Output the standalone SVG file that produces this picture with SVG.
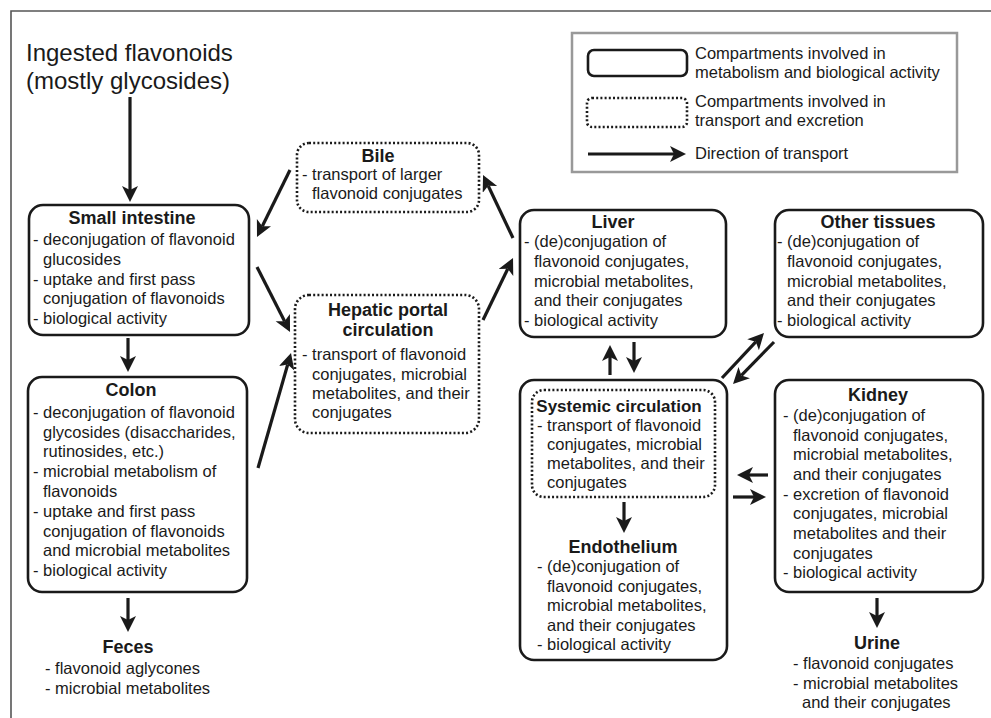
<svg xmlns="http://www.w3.org/2000/svg" width="991" height="718" viewBox="0 0 991 718">
<defs>
<marker id="ah" markerUnits="userSpaceOnUse" markerWidth="18" markerHeight="18" refX="4" refY="8" orient="auto">
<path d="M0,0 L16,8 L0,16 L4,8 Z" fill="#1a1a1a"/>
</marker>
<style>
text{font-family:"Liberation Sans",Arial,sans-serif;fill:#1a1a1a;font-size:16.5px}
.t{font-weight:bold;font-size:18px;text-anchor:middle}
.big{font-size:24px}
.solid{fill:#fff;stroke:#1a1a1a;stroke-width:2.6}
.dot{fill:#fff;stroke:#1a1a1a;stroke-width:2.6;stroke-dasharray:2 2.2}
.ar{stroke:#1a1a1a;stroke-width:3.2;fill:none;marker-end:url(#ah)}
</style>
</defs>
<rect width="991" height="718" fill="#fff"/>
<path d="M11,718 L11,11 L991,11" fill="none" stroke="#555" stroke-width="1.6"/>

<g id="ingested">
<text class="big" x="26" y="61">Ingested flavonoids</text>
<text class="big" x="26" y="89">(mostly glycosides)</text>
</g>

<g id="legend">
<rect x="572" y="33" width="385" height="139" fill="#fff" stroke="#999" stroke-width="2.5"/>
<rect class="solid" x="588" y="50" width="99" height="26" rx="6"/>
<text x="695" y="59">Compartments involved in</text>
<text x="695" y="78">metabolism and biological activity</text>
<rect class="dot" x="587" y="98" width="100" height="29" rx="5"/>
<text x="695" y="107">Compartments involved in</text>
<text x="695" y="126">transport and excretion</text>
<line class="ar" x1="588" y1="154" x2="674" y2="154"/>
<text x="695" y="159">Direction of transport</text>
</g>

<g id="small-intestine">
<rect class="solid" x="29" y="205" width="220" height="130" rx="14"/>
<text class="t" x="132" y="224">Small intestine</text>
<text x="33" y="245">- deconjugation of flavonoid</text>
<text x="43" y="265">glucosides</text>
<text x="33" y="285">- uptake and first pass</text>
<text x="43" y="304">conjugation of flavonoids</text>
<text x="33" y="324">- biological activity</text>
</g>

<g id="colon">
<rect class="solid" x="28" y="377" width="219" height="215" rx="14"/>
<text class="t" x="131" y="396">Colon</text>
<text x="33" y="418">- deconjugation of flavonoid</text>
<text x="43" y="438">glycosides (disaccharides,</text>
<text x="43" y="457">rutinosides, etc.)</text>
<text x="33" y="477">- microbial metabolism of</text>
<text x="43" y="497">flavonoids</text>
<text x="33" y="517">- uptake and first pass</text>
<text x="43" y="537">conjugation of flavonoids</text>
<text x="43" y="556">and microbial metabolites</text>
<text x="33" y="576">- biological activity</text>
</g>

<g id="feces">
<text class="t" x="128" y="653">Feces</text>
<text x="45" y="674">- flavonoid aglycones</text>
<text x="45" y="694">- microbial metabolites</text>
</g>

<g id="bile">
<rect class="dot" x="297" y="143" width="182" height="69" rx="12"/>
<text class="t" x="378" y="162">Bile</text>
<text x="302" y="180">- transport of larger</text>
<text x="312" y="199">flavonoid conjugates</text>
</g>

<g id="hepatic-portal">
<rect class="dot" x="295" y="295" width="184" height="138" rx="14"/>
<text class="t" x="388" y="316">Hepatic portal</text>
<text class="t" x="388" y="336">circulation</text>
<text x="302" y="360">- transport of flavonoid</text>
<text x="312" y="380">conjugates, microbial</text>
<text x="312" y="399">metabolites, and their</text>
<text x="312" y="418">conjugates</text>
</g>

<g id="liver">
<rect class="solid" x="520" y="210" width="206" height="127" rx="14"/>
<text class="t" x="613" y="228">Liver</text>
<text x="524" y="247">- (de)conjugation of</text>
<text x="534" y="267">flavonoid conjugates,</text>
<text x="534" y="287">microbial metabolites,</text>
<text x="534" y="306">and their conjugates</text>
<text x="524" y="326">- biological activity</text>
</g>

<g id="other-tissues">
<rect class="solid" x="775" y="210" width="208" height="127" rx="14"/>
<text class="t" x="878" y="228">Other tissues</text>
<text x="777" y="247">- (de)conjugation of</text>
<text x="787" y="267">flavonoid conjugates,</text>
<text x="787" y="287">microbial metabolites,</text>
<text x="787" y="306">and their conjugates</text>
<text x="777" y="326">- biological activity</text>
</g>

<g id="endothelium">
<rect class="solid" x="520" y="380" width="207" height="280" rx="14"/>
<text class="t" x="623" y="553">Endothelium</text>
<text x="537" y="572">- (de)conjugation of</text>
<text x="547" y="592">flavonoid conjugates,</text>
<text x="547" y="611">microbial metabolites,</text>
<text x="547" y="631">and their conjugates</text>
<text x="537" y="650">- biological activity</text>
</g>

<g id="systemic-circulation">
<rect class="dot" x="532" y="390" width="183" height="107" rx="12"/>
<text class="t" x="619" y="412" style="font-size:17px">Systemic circulation</text>
<text x="537" y="431">- transport of flavonoid</text>
<text x="547" y="450">conjugates, microbial</text>
<text x="547" y="469">metabolites, and their</text>
<text x="547" y="488">conjugates</text>
</g>

<g id="kidney">
<rect class="solid" x="775" y="380" width="208" height="212" rx="14"/>
<text class="t" x="878" y="401">Kidney</text>
<text x="783" y="421">- (de)conjugation of</text>
<text x="793" y="441">flavonoid conjugates,</text>
<text x="793" y="460">microbial metabolites,</text>
<text x="793" y="480">and their conjugates</text>
<text x="783" y="500">- excretion of flavonoid</text>
<text x="793" y="519">conjugates, microbial</text>
<text x="793" y="539">metabolites and their</text>
<text x="793" y="559">conjugates</text>
<text x="783" y="578">- biological activity</text>
</g>

<g id="urine">
<text class="t" x="877" y="649">Urine</text>
<text x="793" y="669">- flavonoid conjugates</text>
<text x="793" y="689">- microbial metabolites</text>
<text x="802" y="708">and their conjugates</text>
</g>

<g id="connectors">
<line class="ar" x1="130" y1="97" x2="130" y2="190"/>
<line class="ar" x1="128" y1="338" x2="128" y2="360"/>
<line class="ar" x1="128" y1="598" x2="128" y2="620"/>
<line class="ar" x1="290" y1="170" x2="262.3" y2="226.2"/>
<line class="ar" x1="257" y1="267" x2="284.6" y2="321.3"/>
<line class="ar" x1="258" y1="468" x2="287.7" y2="364.5"/>
<line class="ar" x1="483" y1="320" x2="507.8" y2="268.8"/>
<line class="ar" x1="513" y1="238" x2="488.2" y2="185.8"/>
<line class="ar" x1="610" y1="375" x2="610" y2="357"/>
<line class="ar" x1="634" y1="342" x2="634" y2="361"/>
<line class="ar" x1="722" y1="378" x2="755.8" y2="341.8"/>
<line class="ar" x1="774" y1="342" x2="741.4" y2="375.4"/>
<line class="ar" x1="768" y1="475" x2="749" y2="475"/>
<line class="ar" x1="733" y1="497" x2="754" y2="497"/>
<line class="ar" x1="624" y1="502" x2="624" y2="521"/>
<line class="ar" x1="877" y1="598" x2="877" y2="616"/>
</g>
</svg>
